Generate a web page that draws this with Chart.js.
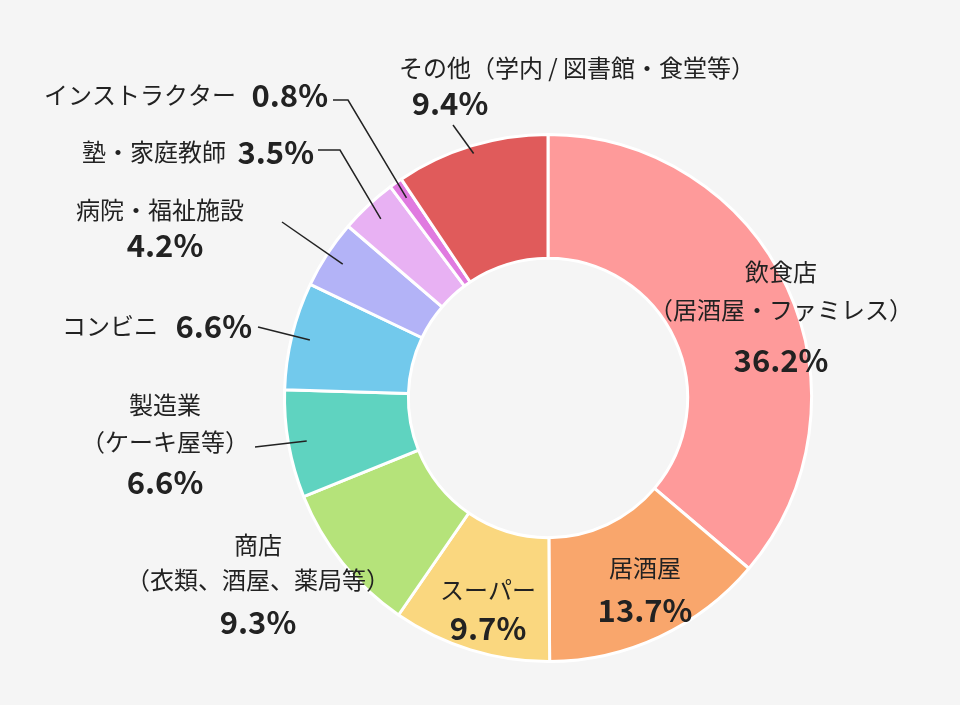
<!DOCTYPE html>
<html>
<head>
<meta charset="utf-8">
<script src="https://cdn.jsdelivr.net/npm/chart.js@4"></script>
<style>
  html, body { margin: 0; padding: 0; background: #f5f5f5; }
  #wrap { width: 960px; height: 705px; }
</style>
</head>
<body>
<div id="wrap"><canvas id="pie"></canvas></div>
<script>
const categories = ['飲食店', '居酒屋', 'スーパー', '商店', '製造業', 'コンビニ', '病院・福祉施設', '塾・家庭教師', 'インストラクター', 'その他'];
const shares = [36.2, 13.7, 9.7, 9.3, 6.6, 6.6, 4.2, 3.5, 0.8, 9.4];
const colors = ['#fe9a9a', '#f9a66c', '#fad77f', '#b5e37a', '#5fd3c0', '#72c9ec', '#b3b3f7', '#e8b1f3', '#e07ae0', '#e05b5b'];

// label text per slice: [text, x, y, bold, align]
const labelText = [
  [['飲食店', 781, 272], ['（居酒屋・ファミレス）', 781, 310], ['36.2%', 781, 360, true]],
  [['居酒屋', 645, 568], ['13.7%', 645, 610, true]],
  [['スーパー', 488, 590], ['9.7%', 488, 628, true]],
  [['商店', 258, 545], ['（衣類、酒屋、薬局等）', 258, 580], ['9.3%', 258, 622, true]],
  [['製造業', 165, 405], ['（ケーキ屋等）', 165, 442], ['6.6%', 165, 482, true]],
  [['コンビニ', 158, 326, false, 'right'], ['6.6%', 252, 326, true, 'right']],
  [['病院・福祉施設', 160, 210], ['4.2%', 165, 245, true]],
  [['塾・家庭教師', 226, 152, false, 'right'], ['3.5%', 314, 152, true, 'right']],
  [['インストラクター', 236, 95, false, 'right'], ['0.8%', 328, 95, true, 'right']],
  [['その他（学内 / 図書館・食堂等）', 577, 68], ['9.4%', 450, 103, true]]
];
// leader lines: slice index, start point(s), radius factor
const leaders = [
  [4, [[255, 447]], 0.93],
  [5, [[258, 327]], 0.93],
  [6, [[282, 222]], 0.93],
  [7, [[318, 150], [340, 150]], 0.93],
  [8, [[333, 100], [348, 100]], 0.93],
  [9, [[453, 125]], 0.97]
];

const labelPlugin = {
  id: 'labels',
  afterDraw(chart) {
    const c = chart.ctx;
    const arcs = chart.getDatasetMeta(0).data;
    c.save();
    c.strokeStyle = '#222';
    c.lineWidth = 1.5;
    leaders.forEach(([i, pts, f]) => {
      const a = arcs[i];
      const mid = (a.startAngle + a.endAngle) / 2;
      const r = a.outerRadius * f;
      c.beginPath();
      c.moveTo(pts[0][0], pts[0][1]);
      pts.slice(1).forEach(p => c.lineTo(p[0], p[1]));
      c.lineTo(a.x + Math.cos(mid) * r, a.y + Math.sin(mid) * r);
      c.stroke();
    });
    c.fillStyle = '#222';
    c.textBaseline = 'middle';
    labelText.forEach(lines => lines.forEach(([t, x, y, bold, align]) => {
      c.textAlign = align || 'center';
      c.font = bold ? 'bold 31px "Noto Sans CJK JP", sans-serif' : '24px "Noto Sans CJK JP", sans-serif';
      c.fillText(t, x, y);
    }));
    c.restore();
  }
};

new Chart(document.getElementById('pie'), {
  type: 'doughnut',
  data: {
    labels: categories,
    datasets: [{
      data: shares,
      backgroundColor: colors,
      borderColor: '#ffffff',
      borderWidth: 3
    }]
  },
  options: {
    responsive: true,
    maintainAspectRatio: false,
    animation: false,
    cutout: '53%',
    layout: { padding: { left: 283, right: 147, top: 133, bottom: 42 } },
    plugins: { legend: { display: false }, tooltip: { enabled: false } }
  },
  plugins: [labelPlugin]
});
</script>
</body>
</html>
